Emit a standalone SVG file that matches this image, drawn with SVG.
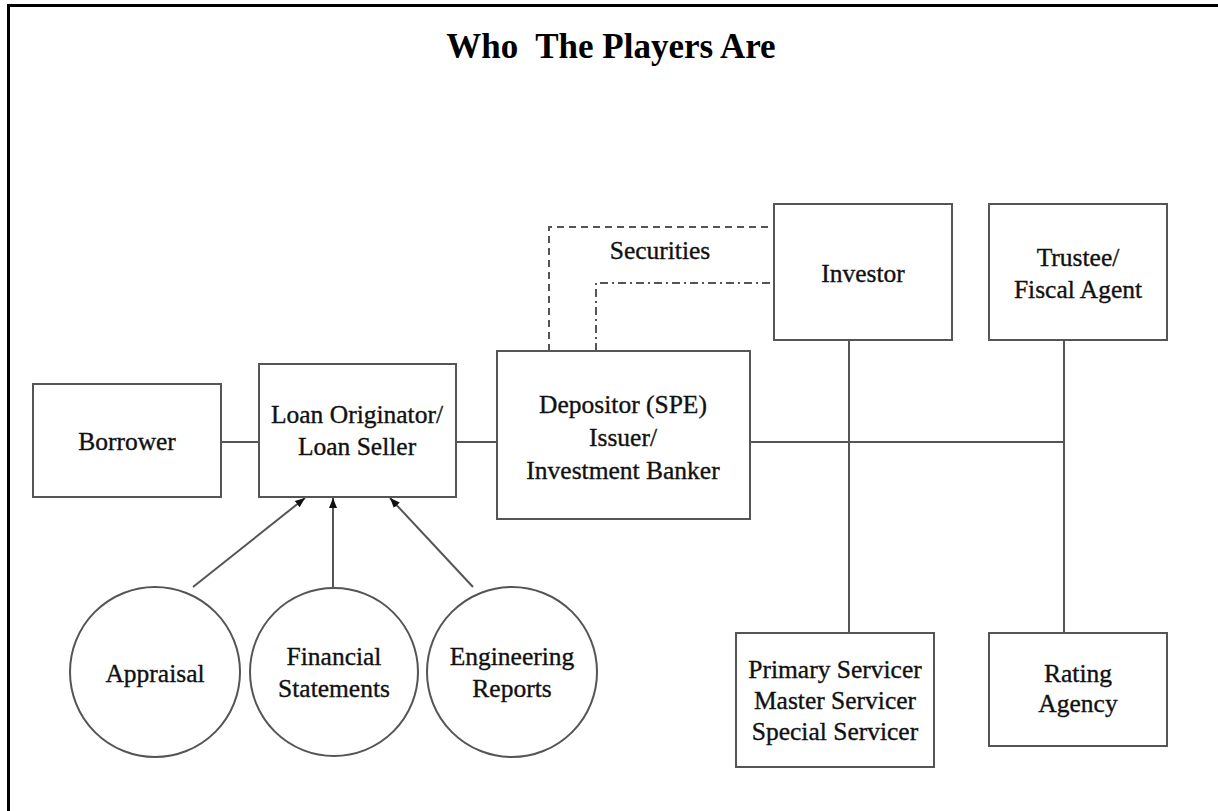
<svg xmlns="http://www.w3.org/2000/svg" width="1218" height="811" viewBox="0 0 1218 811">
<style>
.box{fill:#fff;stroke:#555;stroke-width:2}
.ln{fill:none;stroke:#555;stroke-width:2}
.t{font-family:"Liberation Serif","Times New Roman",serif;font-size:25.5px;fill:#111;stroke:#111;stroke-width:0.35;text-anchor:middle}
.title{font-family:"Liberation Serif","Times New Roman",serif;font-size:35px;font-weight:bold;fill:#000;text-anchor:middle;white-space:pre}
</style>
<defs>
<marker id="ah" viewBox="0 0 10 10" refX="10" refY="5" markerWidth="10" markerHeight="10" markerUnits="userSpaceOnUse" orient="auto">
<path d="M0,1 L10,5 L0,9 Z" fill="#111"/>
</marker>
</defs>
<rect width="1218" height="811" fill="#fff"/>
<path d="M8.5,811 V5.5 H1218" fill="none" stroke="#000" stroke-width="3"/>
<text class="title" x="611" y="58">Who  The Players Are</text>

<g id="connectors">
<line class="ln" x1="221" y1="442" x2="259" y2="442"/>
<line class="ln" x1="456" y1="442" x2="497" y2="442"/>
<line class="ln" x1="750" y1="442" x2="1064" y2="442"/>
<line class="ln" x1="849" y1="340" x2="849" y2="633"/>
<line class="ln" x1="1064" y1="340" x2="1064" y2="633"/>
<path class="ln" d="M549,351 V227 H774" stroke-dasharray="7,5"/>
<path class="ln" d="M596,351 V283 H774" stroke-dasharray="8,4,2,4"/>
<line class="ln" x1="193" y1="587" x2="305" y2="498" stroke="#222" marker-end="url(#ah)"/>
<line class="ln" x1="333" y1="587" x2="333" y2="498" stroke="#222" marker-end="url(#ah)"/>
<line class="ln" x1="473" y1="587" x2="390" y2="498" stroke="#222" marker-end="url(#ah)"/>
<text class="t" x="660" y="259">Securities</text>
</g>

<g id="borrower">
<rect class="box" x="33" y="384" width="188" height="113"/>
<text class="t" x="127" y="450">Borrower</text>
</g>
<g id="loan-originator">
<rect class="box" x="259" y="364" width="197" height="133"/>
<text class="t" x="357" y="423">Loan Originator/</text>
<text class="t" x="357" y="455">Loan Seller</text>
</g>
<g id="depositor">
<rect class="box" x="497" y="351" width="253" height="168"/>
<text class="t" x="623" y="413">Depositor (SPE)</text>
<text class="t" x="623" y="446">Issuer/</text>
<text class="t" x="623" y="479">Investment Banker</text>
</g>
<g id="investor">
<rect class="box" x="774" y="204" width="178" height="136"/>
<text class="t" x="863" y="282">Investor</text>
</g>
<g id="trustee">
<rect class="box" x="989" y="204" width="178" height="136"/>
<text class="t" x="1078" y="266">Trustee/</text>
<text class="t" x="1078" y="298">Fiscal Agent</text>
</g>
<g id="servicer">
<rect class="box" x="736" y="633" width="198" height="134"/>
<text class="t" x="835" y="678">Primary Servicer</text>
<text class="t" x="835" y="709">Master Servicer</text>
<text class="t" x="835" y="740">Special Servicer</text>
</g>
<g id="rating-agency">
<rect class="box" x="989" y="633" width="178" height="113"/>
<text class="t" x="1078" y="682">Rating</text>
<text class="t" x="1078" y="712">Agency</text>
</g>
<g id="appraisal">
<circle class="box" cx="155" cy="672" r="85"/>
<text class="t" x="155" y="682">Appraisal</text>
</g>
<g id="financial">
<circle class="box" cx="334" cy="672" r="84"/>
<text class="t" x="334" y="665">Financial</text>
<text class="t" x="334" y="697">Statements</text>
</g>
<g id="engineering">
<circle class="box" cx="512" cy="672" r="85"/>
<text class="t" x="512" y="665">Engineering</text>
<text class="t" x="512" y="697">Reports</text>
</g>
</svg>
